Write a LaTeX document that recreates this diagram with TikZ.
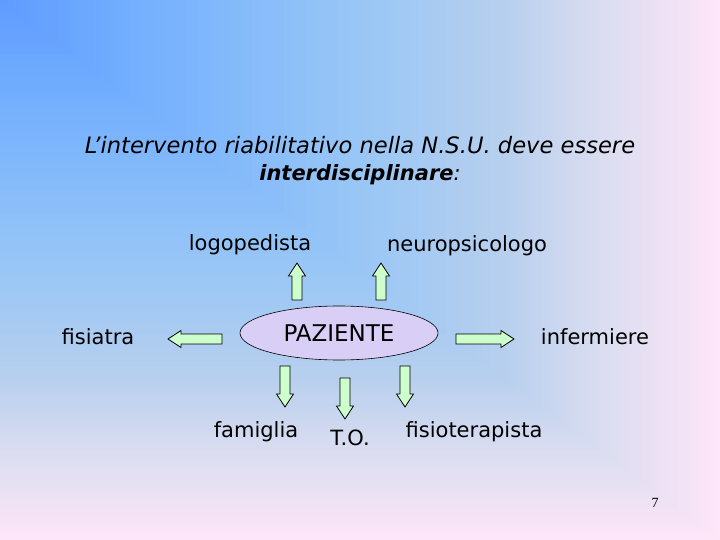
\documentclass[tikz,border=0pt]{standalone}
\usepackage{fontspec}
\setmainfont{DejaVu Sans}
\newfontfamily\pagefont{Liberation Serif}
\usepackage{tikz}
\usetikzlibrary{calc,shapes.geometric}

\definecolor{bgA}{HTML}{5E9BFF}
\definecolor{bgB}{HTML}{74B0FE}
\definecolor{bgC}{HTML}{98C6F6}
\definecolor{bgD}{HTML}{B6CFEE}
\definecolor{bgE}{HTML}{D9DCF0}
\definecolor{bgF}{HTML}{FDE6F8}
\definecolor{arrgreen}{HTML}{CCFFCC}
\definecolor{pazlilac}{HTML}{D9CEF5}

\tikzset{
  label/.style={font=\fontsize{21}{25}\selectfont, inner sep=0pt},
  blockarr/.style={draw=black, fill=arrgreen, line width=0.8pt, line join=miter},
  patient/.style={ellipse, draw=black, fill=pazlilac, line width=0.6pt,
    minimum width=198pt, minimum height=54pt, inner sep=0pt,
    font=\fontsize{23}{27}\selectfont}
}

% background band from corner: #1,#2 = start/end fraction, #3,#4 = colours
\newcommand{\bgband}[4]{%
  \foreach \k in {20,19,...,0} {
    \pgfmathsetmacro\tt{#1+(#2-#1)*\k/20}
    \pgfmathsetmacro\pp{5*\k}
    \fill[#4!\pp!#3] (0,0) rectangle (720*\tt,540*\tt);
  }
}

% block arrow from tail #1 to tip #2
\newcommand{\blockarrow}[2]{%
  \path let \p1=($(#2)-(#1)$) in \pgfextra{%
    \pgfmathsetmacro\arrang{atan2(\y1,\x1)}%
    \pgfmathsetmacro\arrlen{veclen(\x1,\y1)}%
    \xdef\arrAng{\arrang}\xdef\arrLen{\arrlen}};
  \draw[blockarr,shift={(#1)},rotate=\arrAng]
    (0pt,-5pt) -- (\arrLen pt-13pt,-5pt) -- (\arrLen pt-13pt,-8.5pt)
    -- (\arrLen pt,0pt) -- (\arrLen pt-13pt,8.5pt) -- (\arrLen pt-13pt,5pt)
    -- (0pt,5pt) -- cycle;
}

\begin{document}
\begin{tikzpicture}[x=1pt,y=-1pt]

    \useasboundingbox (0,0) rectangle (720,540);
    \fill[bgF] (0,0) rectangle (720,540);
    \bgband{0.833}{1.0}{bgE}{bgF}
    \bgband{0.7}{0.833}{bgD}{bgE}
    \bgband{0.5}{0.7}{bgC}{bgD}
    \bgband{0.2}{0.5}{bgB}{bgC}
    \bgband{0.0}{0.2}{bgA}{bgB}

    % title
    \node[font=\fontsize{22.6}{26}\selectfont\itshape, inner sep=0pt] (title1) at (360,145)
      {L’intervento riabilitativo nella N.S.U. deve essere};
    \node[font=\fontsize{21}{25}\selectfont\itshape, inner sep=0pt] (title2) at (360,175)
      {\textbf{interdisciplinare}:};

    % centre
    \node[patient] (paz) at (339,333) {PAZIENTE};

    % figures round the patient
    \node[label] (logo) at (250,245) {logopedista};
    \node[label] (neuro) at (467,246) {neuropsicologo};
    \node[label] (fisiatra) at (98,337) {fisiatra};
    \node[label] (inferm) at (595,337) {infermiere};
    \node[label] (famiglia) at (256,432) {famiglia};
    \node[label] (to) at (350,438) {T.O.};
    \node[label] (fisiot) at (474,432) {fisioterapista};

    \node[font=\pagefont\fontsize{14}{16}\selectfont, inner sep=0pt] (pagenum) at (655,503) {7};

    % arrows
    \coordinate (logo-s) at (297,300);  \coordinate (logo-e) at (297,263);
    \coordinate (neuro-s) at (381,300); \coordinate (neuro-e) at (381,263);
    \coordinate (fisi-s) at (222,339);  \coordinate (fisi-e) at (168,339);
    \coordinate (inf-s) at (456,339);   \coordinate (inf-e) at (514,339);
    \coordinate (fam-s) at (285,366);   \coordinate (fam-e) at (285,407);
    \coordinate (to-s) at (345,378);    \coordinate (to-e) at (345,419);
    \coordinate (fisio-s) at (405,366); \coordinate (fisio-e) at (405,407);

    \blockarrow{logo-s}{logo-e}
    \blockarrow{neuro-s}{neuro-e}
    \blockarrow{fisi-s}{fisi-e}
    \blockarrow{inf-s}{inf-e}
    \blockarrow{fam-s}{fam-e}
    \blockarrow{to-s}{to-e}
    \blockarrow{fisio-s}{fisio-e}

\end{tikzpicture}
\end{document}
